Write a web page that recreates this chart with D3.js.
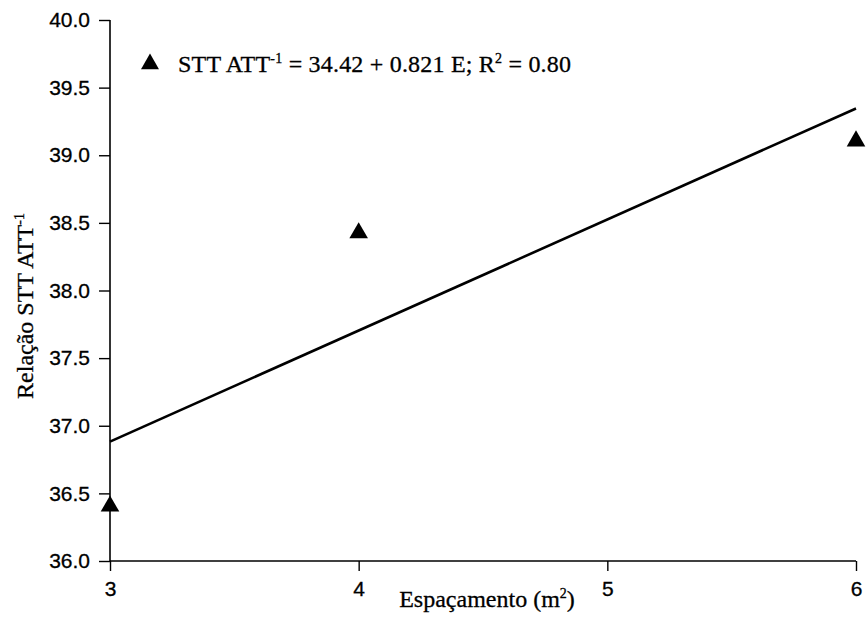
<!DOCTYPE html>
<html>
<head>
<meta charset="utf-8">
<script src="https://cdn.jsdelivr.net/npm/d3@7"></script>
<style>
  body { margin: 0; background: #fff; }
</style>
</head>
<body>
<svg id="chart" width="867" height="623"></svg>
<script>
// observed values
var espacamento = [3, 4, 6];
var relacao = [36.42, 38.44, 39.12];

// fitted line: STT ATT-1 = 34.42 + 0.821 E
var intercept = 34.42;
var slope = 0.821;

var xTicks = [3, 4, 5, 6];
var yTicks = [36.0, 36.5, 37.0, 37.5, 38.0, 38.5, 39.0, 39.5, 40.0];

var svg = d3.select("#chart");

var margin = {left: 110, right: 11, top: 20, bottom: 62};
var width = 867 - margin.left - margin.right;
var height = 623 - margin.top - margin.bottom;

var x = d3.scaleLinear().domain([3, 6]).range([0, width]);
var y = d3.scaleLinear().domain([36, 40]).range([height, 0]);

var serif = "'Liberation Serif', 'Times New Roman', serif";

var g = svg.append("g")
    .attr("transform", "translate(" + margin.left + "," + margin.top + ")");

// axes
var yAxis = g.append("g")
    .call(d3.axisLeft(y).tickValues(yTicks).tickFormat(d3.format(".1f"))
        .tickSize(11).tickPadding(9));

var xAxis = g.append("g")
    .attr("transform", "translate(0," + height + ")")
    .call(d3.axisBottom(x).tickValues(xTicks).tickFormat(d3.format("d"))
        .tickSize(10).tickPadding(10));

[yAxis, xAxis].forEach(function(ax) {
    ax.select(".domain").attr("stroke", "#000").attr("stroke-width", 1.6);
    ax.selectAll(".tick line").attr("stroke", "#000").attr("stroke-width", 1.4);
    ax.selectAll(".tick text")
        .attr("fill", "#000")
        .attr("stroke", "#000")
        .attr("stroke-width", 0.3)
        .style("font-family", "'Liberation Sans', Arial, sans-serif")
        .style("font-size", "21px");
});
// no outer tick stubs
yAxis.select(".domain").attr("d", "M0," + y(40) + "V" + height);
xAxis.select(".domain").attr("d", "M0,0H" + width);

// regression line
var line = d3.line()
    .x(function(d) { return x(d); })
    .y(function(d) { return y(intercept + slope * d); });

g.append("path")
    .datum([3, 6])
    .attr("d", line)
    .attr("fill", "none")
    .attr("stroke", "#000")
    .attr("stroke-width", 2.6);

// points
var tri = d3.symbol().type(d3.symbolTriangle).size(150);

g.selectAll(".pt")
    .data(espacamento)
    .enter().append("path")
    .attr("class", "pt")
    .attr("d", tri)
    .attr("transform", function(d, i) {
        return "translate(" + x(d) + "," + (y(relacao[i]) + 2) + ")";
    })
    .attr("fill", "#000");

// legend
svg.append("path")
    .attr("d", d3.symbol().type(d3.symbolTriangle).size(140))
    .attr("transform", "translate(150,64)")
    .attr("fill", "#000");

function addSup(sel, base, sup, tail, size) {
    sel.append("tspan").text(base);
    sel.append("tspan").attr("dy", -9).style("font-size", size + "px").text(sup);
    if (tail) sel.append("tspan").attr("dy", 9).text(tail);
}

var legend = svg.append("text")
    .attr("x", 178)
    .attr("y", 72)
    .attr("fill", "#000")
    .attr("stroke", "#000")
    .attr("stroke-width", 0.3)
    .attr("textLength", 393)
    .style("font-family", serif)
    .style("font-size", "24px");
legend.append("tspan").text("STT ATT");
legend.append("tspan").attr("dy", -9).style("font-size", "14px").text("-1");
legend.append("tspan").attr("dy", 9).text(" = 34.42 + 0.821 E; R");
legend.append("tspan").attr("dy", -9).style("font-size", "14px").text("2");
legend.append("tspan").attr("dy", 9).text(" = 0.80");

// axis titles
var xt = svg.append("text")
    .attr("x", 487)
    .attr("y", 607)
    .attr("text-anchor", "middle")
    .attr("fill", "#000")
    .attr("stroke", "#000")
    .attr("stroke-width", 0.3)
    .style("font-family", serif)
    .style("font-size", "24px");
addSup(xt, "Espaçamento (m", "2", ")", 14);

var yt = svg.append("text")
    .attr("transform", "translate(33,306) rotate(-90)")
    .attr("text-anchor", "middle")
    .attr("fill", "#000")
    .attr("stroke", "#000")
    .attr("stroke-width", 0.3)
    .style("font-family", serif)
    .style("font-size", "24px");
addSup(yt, "Relação STT ATT", "-1", null, 14);
</script>
</body>
</html>
